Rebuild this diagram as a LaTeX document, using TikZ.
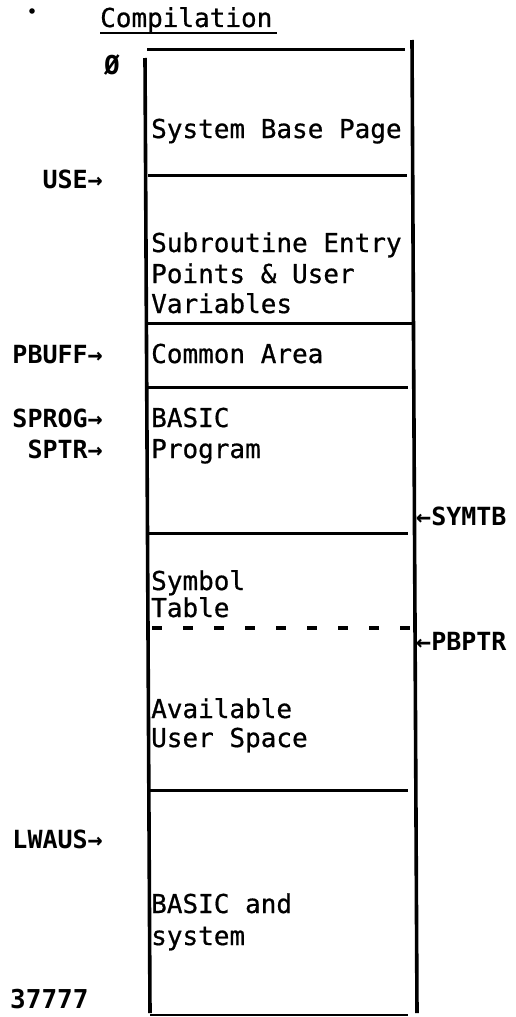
\documentclass[tikz,border=0pt]{standalone}
\usepackage{fontspec}
\newfontfamily\memfont[FakeBold=0.7]{DejaVu Sans Mono}
\newfontfamily\ptrfont{DejaVu Sans Mono}
\begin{document}
\begin{tikzpicture}[x=1pt,y=-1pt,
  region/.style={anchor=base west, inner sep=0pt, font=\memfont\fontsize{26}{30}\selectfont},
  lptr/.style={anchor=base east, inner sep=0pt, font=\ptrfont\bfseries\fontsize{25}{30}\selectfont},
  rptr/.style={anchor=base west, inner sep=0pt, font=\ptrfont\bfseries\fontsize{25}{30}\selectfont},
  addr/.style={anchor=base west, inner sep=0pt, font=\ptrfont\bfseries\fontsize{26}{30}\selectfont},
  wall/.style={line width=3.6pt},
  sepline/.style={line width=3pt},
  freeline/.style={line width=3.5pt, dash pattern=on 10pt off 21pt}]
\useasboundingbox (0,0) rectangle (515,1017);

% title
\fill (32,11) circle (2.8pt);
\node[region] (title) at (100,27) {Compilation};
\draw[line width=2.4pt] (100,33) -- (277,33);

% memory walls
\coordinate (lt) at (145,58);
\coordinate (lb) at (150,1013);
\coordinate (rt) at (412,40);
\coordinate (rb) at (417,1013);
\draw[wall] (lt) -- (lb);
\draw[wall] (rt) -- (rb);

% separators
\draw[sepline] (147,49) -- (405,49);
\draw[sepline] (148,175) -- (407,175);
\draw[sepline] (147,323) -- (413,323);
\draw[sepline] (148,387) -- (408,387);
\draw[sepline] (147,533) -- (408,533);
\draw[freeline] (152,628) -- (413,628);
\draw[sepline] (150,790) -- (408,790);
\draw[line width=1.6pt] (150,1015) -- (408,1015);

% region texts
\node[region] (sbp) at (151,138) {System Base Page};
\node[region] (sub1) at (151,252) {Subroutine Entry};
\node[region] (sub2) at (151,283) {Points \& User};
\node[region] (sub3) at (151,313) {Variables};
\node[region] (com) at (151,363) {Common Area};
\node[region] (bas1) at (151,427) {BASIC};
\node[region] (bas2) at (151,458) {Program};
\node[region] (sym1) at (151,590) {Symbol};
\node[region] (sym2) at (151,617) {Table};
\node[region] (av1) at (151,718) {Available};
\node[region] (av2) at (151,747) {User Space};
\node[region] (bs1) at (151,913) {BASIC and};
\node[region] (bs2) at (151,945) {system};

% pointer labels
\node[addr] (zero) at (104,74) {Ø};
\node[lptr] (use) at (103,188) {USE→};
\node[lptr] (pbuff) at (103,363) {PBUFF→};
\node[lptr] (sprog) at (103,427) {SPROG→};
\node[lptr] (sptr) at (103,458) {SPTR→};
\node[lptr] (lwaus) at (103,848) {LWAUS→};
\node[addr] (top) at (10,1008) {37777};
\node[rptr] (symtb) at (416,525) {←SYMTB};
\node[rptr] (pbptr) at (416,650) {←PBPTR};
\end{tikzpicture}
\end{document}
